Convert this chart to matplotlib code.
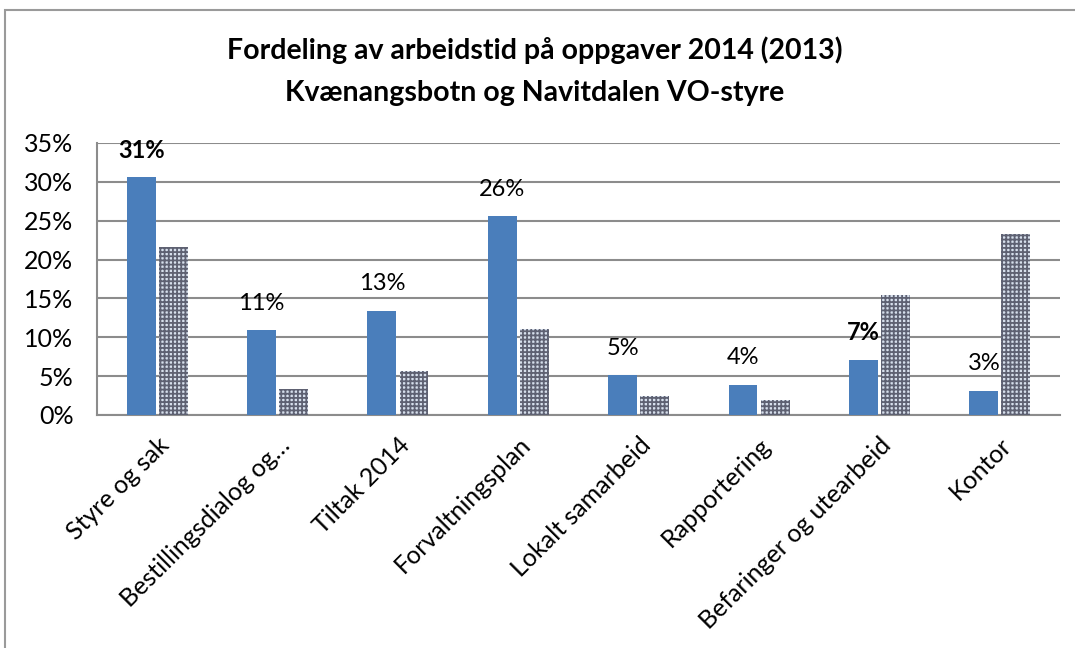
import matplotlib
matplotlib.use("Agg")
import matplotlib.pyplot as plt
import numpy as np
from matplotlib.patches import Rectangle

plt.rcParams['font.family'] = ['Lato', 'DejaVu Sans']
plt.rcParams['hatch.linewidth'] = 1.3

categories = ["Styre og sak", "Bestillingsdialog og…", "Tiltak 2014", "Forvaltningsplan",
              "Lokalt samarbeid", "Rapportering", "Befaringer og utearbeid", "Kontor"]
values_2014 = [30.6, 10.9, 13.4, 25.6, 5.1, 3.9, 7.1, 3.1]
values_2013 = [21.6, 3.4, 5.7, 11.1, 2.4, 1.9, 15.5, 23.3]
labels_2014 = ["31%", "11%", "13%", "26%", "5%", "4%", "7%", "3%"]
bold_labels = ["31%", "7%"]
yticks = [0, 5, 10, 15, 20, 25, 30, 35]

fig = plt.figure(figsize=(10.75, 6.48), dpi=100)
ax = fig.add_axes([97/1075, 1-415/648, (1060-97)/1075, (415-143)/648])

x = np.arange(len(categories))
w = 0.24
off = 0.133
ax.bar(x - off, values_2014, w, color='#4a7ebb', zorder=3)
ax.bar(x + off, values_2013, w, facecolor='#d6dfec', edgecolor='#5e6172',
       hatch='++++', linewidth=0, zorder=3)

for xi, v, lab in zip(x, values_2014, labels_2014):
    ax.annotate(lab, (xi - off, v), xytext=(0, 27), textcoords='offset pixels',
                ha='center', va='center', fontsize=17,
                fontweight='bold' if lab in bold_labels else 'normal', color='black')

ax.set_xlim(-0.5, len(categories) - 0.5)
ax.set_ylim(0, 35)
ax.set_yticks(yticks)
ax.set_yticklabels([f"{t}%" for t in yticks], fontsize=18)
ax.set_xticks(x)
ax.set_xticklabels(categories, rotation=45, ha='right', rotation_mode='anchor', fontsize=18)
ax.tick_params(axis='y', length=0, pad=17)
ax.tick_params(axis='x', length=0, pad=13)
ax.grid(axis='y', color='#8c8c8c', linewidth=1.5, zorder=0)
for s in ['top', 'right']:
    ax.spines[s].set_visible(False)
for s in ['left', 'bottom']:
    ax.spines[s].set_color('#8c8c8c')
    ax.spines[s].set_linewidth(1.5)

fig.text(535/1075, 1-50/648, "Fordeling av arbeidstid på oppgaver 2014 (2013)",
         ha='center', va='center', fontsize=20.5, fontweight='bold')
fig.text(535/1075, 1-93/648, "Kvænangsbotn og Navitdalen VO-styre",
         ha='center', va='center', fontsize=20.5, fontweight='bold')

fig.patches.append(Rectangle((5/1075, -0.1), 1.2, 1 - 10/648 + 0.1, transform=fig.transFigure,
                             fill=False, edgecolor='#9a9a9a', linewidth=1.5))

fig.savefig("out.png", dpi=100)
